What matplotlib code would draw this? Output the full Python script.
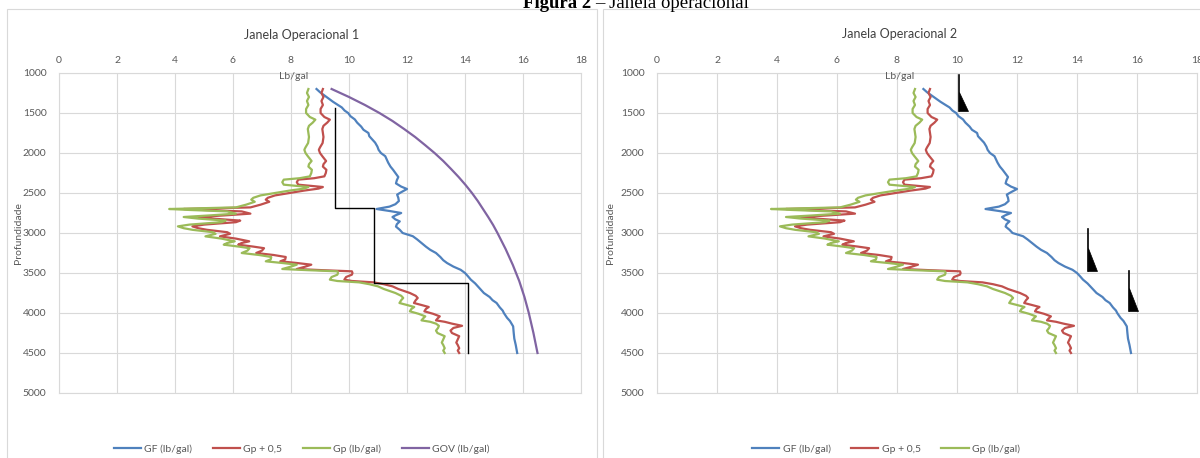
import matplotlib
matplotlib.use("Agg")
import matplotlib.pyplot as plt
from matplotlib.patches import Rectangle, Polygon

# --- dados (profundidade x peso de lama em lb/gal) ---
depth_gp = [1200, 1250, 1300, 1350, 1400, 1450, 1500, 1550, 1583, 1620,
            1660, 1700, 1750, 1800, 1875, 1930, 1960, 2000, 2040, 2100,
            2140, 2170, 2210, 2250, 2292, 2315, 2333, 2365, 2396, 2425,
            2445, 2470, 2500, 2530, 2560, 2583, 2610, 2646, 2680, 2700,
            2712, 2730, 2758, 2780, 2800, 2820, 2845, 2865, 2895, 2917,
            2940, 2960, 2990, 3010, 3042, 3070, 3104, 3125, 3146, 3170,
            3190, 3220, 3250, 3275, 3300, 3330, 3354, 3375, 3396, 3420,
            3450, 3465, 3479, 3500, 3521, 3550, 3583, 3600, 3617, 3640,
            3667, 3700, 3750, 3785, 3812, 3840, 3875, 3900, 3925, 3950,
            3979, 4010, 4042, 4070, 4092, 4110, 4133, 4160, 4187, 4220,
            4250, 4290, 4330, 4370, 4400, 4440, 4470, 4500]
gp = [8.60, 8.55, 8.62, 8.55, 8.60, 8.52, 8.52, 8.65, 8.84, 8.75,
      8.62, 8.58, 8.60, 8.62, 8.59, 8.50, 8.46, 8.50, 8.58, 8.71,
      8.62, 8.60, 8.72, 8.70, 8.65, 8.30, 7.75, 7.70, 7.75, 8.60,
      8.45, 7.95, 7.45, 6.95, 6.70, 6.63, 6.75, 6.45, 6.10, 3.80,
      4.50, 5.80, 6.10, 5.20, 4.30, 4.80, 5.75, 5.60, 4.50, 4.10,
      4.30, 4.60, 5.30, 5.40, 5.05, 5.60, 6.06, 5.80, 5.68, 6.20,
      6.57, 6.50, 6.30, 6.90, 7.32, 7.30, 7.13, 7.70, 8.20, 8.00,
      7.70, 8.60, 9.60, 9.62, 9.60, 9.40, 9.34, 9.60, 10.35, 10.70,
      11.00, 11.20, 11.60, 11.80, 11.87, 11.80, 11.74, 12.00, 12.25, 12.15,
      12.10, 12.40, 12.63, 12.55, 12.50, 12.80, 13.00, 13.10, 13.07, 13.00,
      13.05, 13.30, 13.25, 13.20, 13.25, 13.30, 13.25, 13.30]
gp_05 = [9.10, 9.05, 9.12, 9.05, 9.10, 9.02, 9.02, 9.15, 9.34, 9.25,
         9.12, 9.08, 9.10, 9.12, 9.09, 9.00, 8.96, 9.00, 9.08, 9.21,
         9.12, 9.10, 9.22, 9.20, 9.15, 8.80, 8.25, 8.20, 8.25, 9.10,
         8.95, 8.45, 7.95, 7.45, 7.20, 7.13, 7.25, 6.95, 6.60, 4.30,
         5.00, 6.30, 6.60, 5.70, 4.80, 5.30, 6.25, 6.10, 5.00, 4.60,
         4.80, 5.10, 5.80, 5.90, 5.55, 6.10, 6.56, 6.30, 6.18, 6.70,
         7.07, 7.00, 6.80, 7.40, 7.82, 7.80, 7.63, 8.20, 8.70, 8.50,
         8.20, 9.10, 10.10, 10.12, 10.10, 9.90, 9.84, 10.10, 10.85, 11.20,
         11.50, 11.70, 12.10, 12.30, 12.37, 12.30, 12.24, 12.50, 12.75, 12.65,
         12.60, 12.90, 13.13, 13.05, 13.00, 13.30, 13.55, 13.90, 13.60, 13.50,
         13.55, 13.80, 13.75, 13.70, 13.75, 13.80, 13.75, 13.80]

depth_gf = [1200, 1240, 1280, 1320, 1360, 1400, 1430, 1470, 1500, 1540,
            1580, 1620, 1670, 1710, 1750, 1790, 1830, 1870, 1920, 1960,
            2000, 2040, 2080, 2120, 2170, 2210, 2250, 2300, 2340, 2380,
            2420, 2450, 2490, 2520, 2560, 2600, 2640, 2670, 2700, 2725,
            2750, 2780, 2800, 2830, 2855, 2890, 2920, 2960, 3000, 3040,
            3080, 3125, 3170, 3210, 3250, 3300, 3340, 3375, 3420, 3460,
            3500, 3540, 3583, 3630, 3670, 3710, 3750, 3800, 3840, 3875,
            3930, 3970, 4000, 4060, 4100, 4167, 4250, 4320, 4400, 4500]
gf = [8.88, 9.00, 9.15, 9.30, 9.45, 9.62, 9.75, 9.85, 9.97, 10.05,
      10.20, 10.28, 10.42, 10.50, 10.67, 10.70, 10.80, 10.90, 10.98, 11.02,
      11.10, 11.25, 11.30, 11.35, 11.43, 11.52, 11.60, 11.70, 11.65, 11.62,
      11.80, 12.00, 11.80, 11.66, 11.70, 11.72, 11.60, 11.40, 10.95, 11.40,
      11.80, 11.60, 11.50, 11.60, 11.75, 11.65, 11.62, 11.75, 11.85, 12.20,
      12.35, 12.50, 12.65, 12.80, 13.00, 13.15, 13.25, 13.38, 13.60, 13.85,
      14.00, 14.10, 14.20, 14.35, 14.45, 14.55, 14.65, 14.85, 14.95, 15.09,
      15.20, 15.30, 15.34, 15.45, 15.55, 15.66, 15.68, 15.70, 15.75, 15.80]

depth_gov = [1200, 1300, 1400, 1500, 1600, 1700, 1800, 1900, 2000, 2100,
             2200, 2300, 2400, 2500, 2600, 2700, 2800, 2900, 3000, 3200,
             3400, 3600, 3800, 4000, 4250, 4500]
gov = [9.40, 10.00, 10.55, 11.05, 11.50, 11.90, 12.28, 12.62, 12.95, 13.25,
       13.52, 13.78, 14.02, 14.24, 14.44, 14.62, 14.80, 14.97, 15.12, 15.40,
       15.65, 15.87, 16.05, 16.20, 16.36, 16.50]

# janela 1: degraus do revestimento
step_x = [9.5, 9.5, 10.85, 10.85, 14.1, 14.1]
step_depth = [1440, 2690, 2690, 3620, 3620, 4500]

# janela 2: sapatas
shoe_x = [10.07, 14.36, 15.72]
shoe_top = [1025, 2950, 3480]
shoe_tri = [1233, 3190, 3690]
shoe_base = [1471, 3470, 3975]

x_ticks = list(range(0, 19, 2))
y_ticks = list(range(1000, 5001, 500))

C_GF = "#4F81BD"
C_GP05 = "#C0504D"
C_GP = "#9BBB59"
C_GOV = "#8064A2"
GRAY = "#595959"
GRID = "#d9d9d9"

W, H = 1200, 458
plt.rcParams["font.family"] = ["Lato", "DejaVu Sans"]

fig = plt.figure(figsize=(W / 100, H / 100), dpi=100)


def add_px_axes(x0, x1, y0, y1):
    return fig.add_axes([x0 / W, 1 - y1 / H, (x1 - x0) / W, (y1 - y0) / H])


def style_axes(ax):
    ax.set_xlim(0, 18)
    ax.set_ylim(5000, 1000)
    ax.set_xticks(x_ticks)
    ax.set_yticks(y_ticks)
    ax.xaxis.tick_top()
    ax.tick_params(length=0, labelsize=7.5, colors=GRAY, pad=6)
    ax.tick_params(axis="y", pad=9)
    ax.grid(True, color=GRID, lw=0.8)
    ax.set_axisbelow(True)
    for s in ax.spines.values():
        s.set_color(GRID)
        s.set_linewidth(0.8)
    ax.text(8.1, 1045, "Lb/gal", ha="center", va="center", fontsize=7.5, color=GRAY)


# molduras dos graficos
fig.add_artist(Rectangle((7 / W, -0.1), 590 / W, 1.1 - 9 / H, transform=fig.transFigure,
                         fill=False, ec=GRID, lw=0.8))
fig.add_artist(Rectangle((603 / W, -0.1), 610 / W, 1.1 - 9 / H, transform=fig.transFigure,
                         fill=False, ec=GRID, lw=0.8))

# --- Janela Operacional 1 ---
ax1 = add_px_axes(59, 581, 73, 393)
style_axes(ax1)
l1, = ax1.plot(gf, depth_gf, color=C_GF, lw=1.6, label="GF (lb/gal)")
l2, = ax1.plot(gp_05, depth_gp, color=C_GP05, lw=1.6, label="Gp + 0,5")
l3, = ax1.plot(gp, depth_gp, color=C_GP, lw=1.6, label="Gp (lb/gal)")
l4, = ax1.plot(gov, depth_gov, color=C_GOV, lw=1.6, label="GOV (lb/gal)")
ax1.plot(step_x, step_depth, color="black", lw=1.0)

fig.text(302 / W, 1 - 35 / H, "Janela Operacional 1", ha="center", va="center",
         fontsize=9, color="#404040")
fig.text(18 / W, 1 - 233 / H, "Profundidade", rotation=90, ha="center", va="center",
         fontsize=7.5, color=GRAY)
fig.legend(handles=[l1, l2, l3, l4], loc="center", bbox_to_anchor=(302 / W, 1 - 449 / H),
           ncol=4, frameon=False, fontsize=7.5, labelcolor=GRAY, handlelength=2.6,
           columnspacing=2.0, handletextpad=0.3)

# --- Janela Operacional 2 ---
ax2 = add_px_axes(657, 1197, 73, 393)
style_axes(ax2)
r1, = ax2.plot(gf, depth_gf, color=C_GF, lw=1.6, label="GF (lb/gal)")
r2, = ax2.plot(gp_05, depth_gp, color=C_GP05, lw=1.6, label="Gp + 0,5")
r3, = ax2.plot(gp, depth_gp, color=C_GP, lw=1.6, label="Gp (lb/gal)")
for x, top, tri, base in zip(shoe_x, shoe_top, shoe_tri, shoe_base):
    ax2.plot([x, x], [top, base], color="black", lw=1.2)
    ax2.add_patch(Polygon([(x, tri), (x, base), (x + 0.3, base)], closed=True,
                          color="black", lw=0.5))

fig.text(900 / W, 1 - 34 / H, "Janela Operacional 2", ha="center", va="center",
         fontsize=9, color="#404040")
fig.text(611 / W, 1 - 233 / H, "Profundidade", rotation=90, ha="center", va="center",
         fontsize=7.5, color=GRAY)
fig.legend(handles=[r1, r2, r3], loc="center", bbox_to_anchor=(886 / W, 1 - 449 / H),
           ncol=3, frameon=False, fontsize=7.5, labelcolor=GRAY, handlelength=2.6,
           columnspacing=2.0, handletextpad=0.3)

# cabecalho cortado no topo
fig.text(591 / W, 1 - 8 / H, "Figura 2", ha="right", va="baseline", fontsize=13.5,
         family="Liberation Serif", weight="bold")
fig.text(595 / W, 1 - 8 / H, "– Janela operacional", ha="left", va="baseline",
         fontsize=13.5, family="Liberation Serif")

fig.savefig("out.png", dpi=100)
